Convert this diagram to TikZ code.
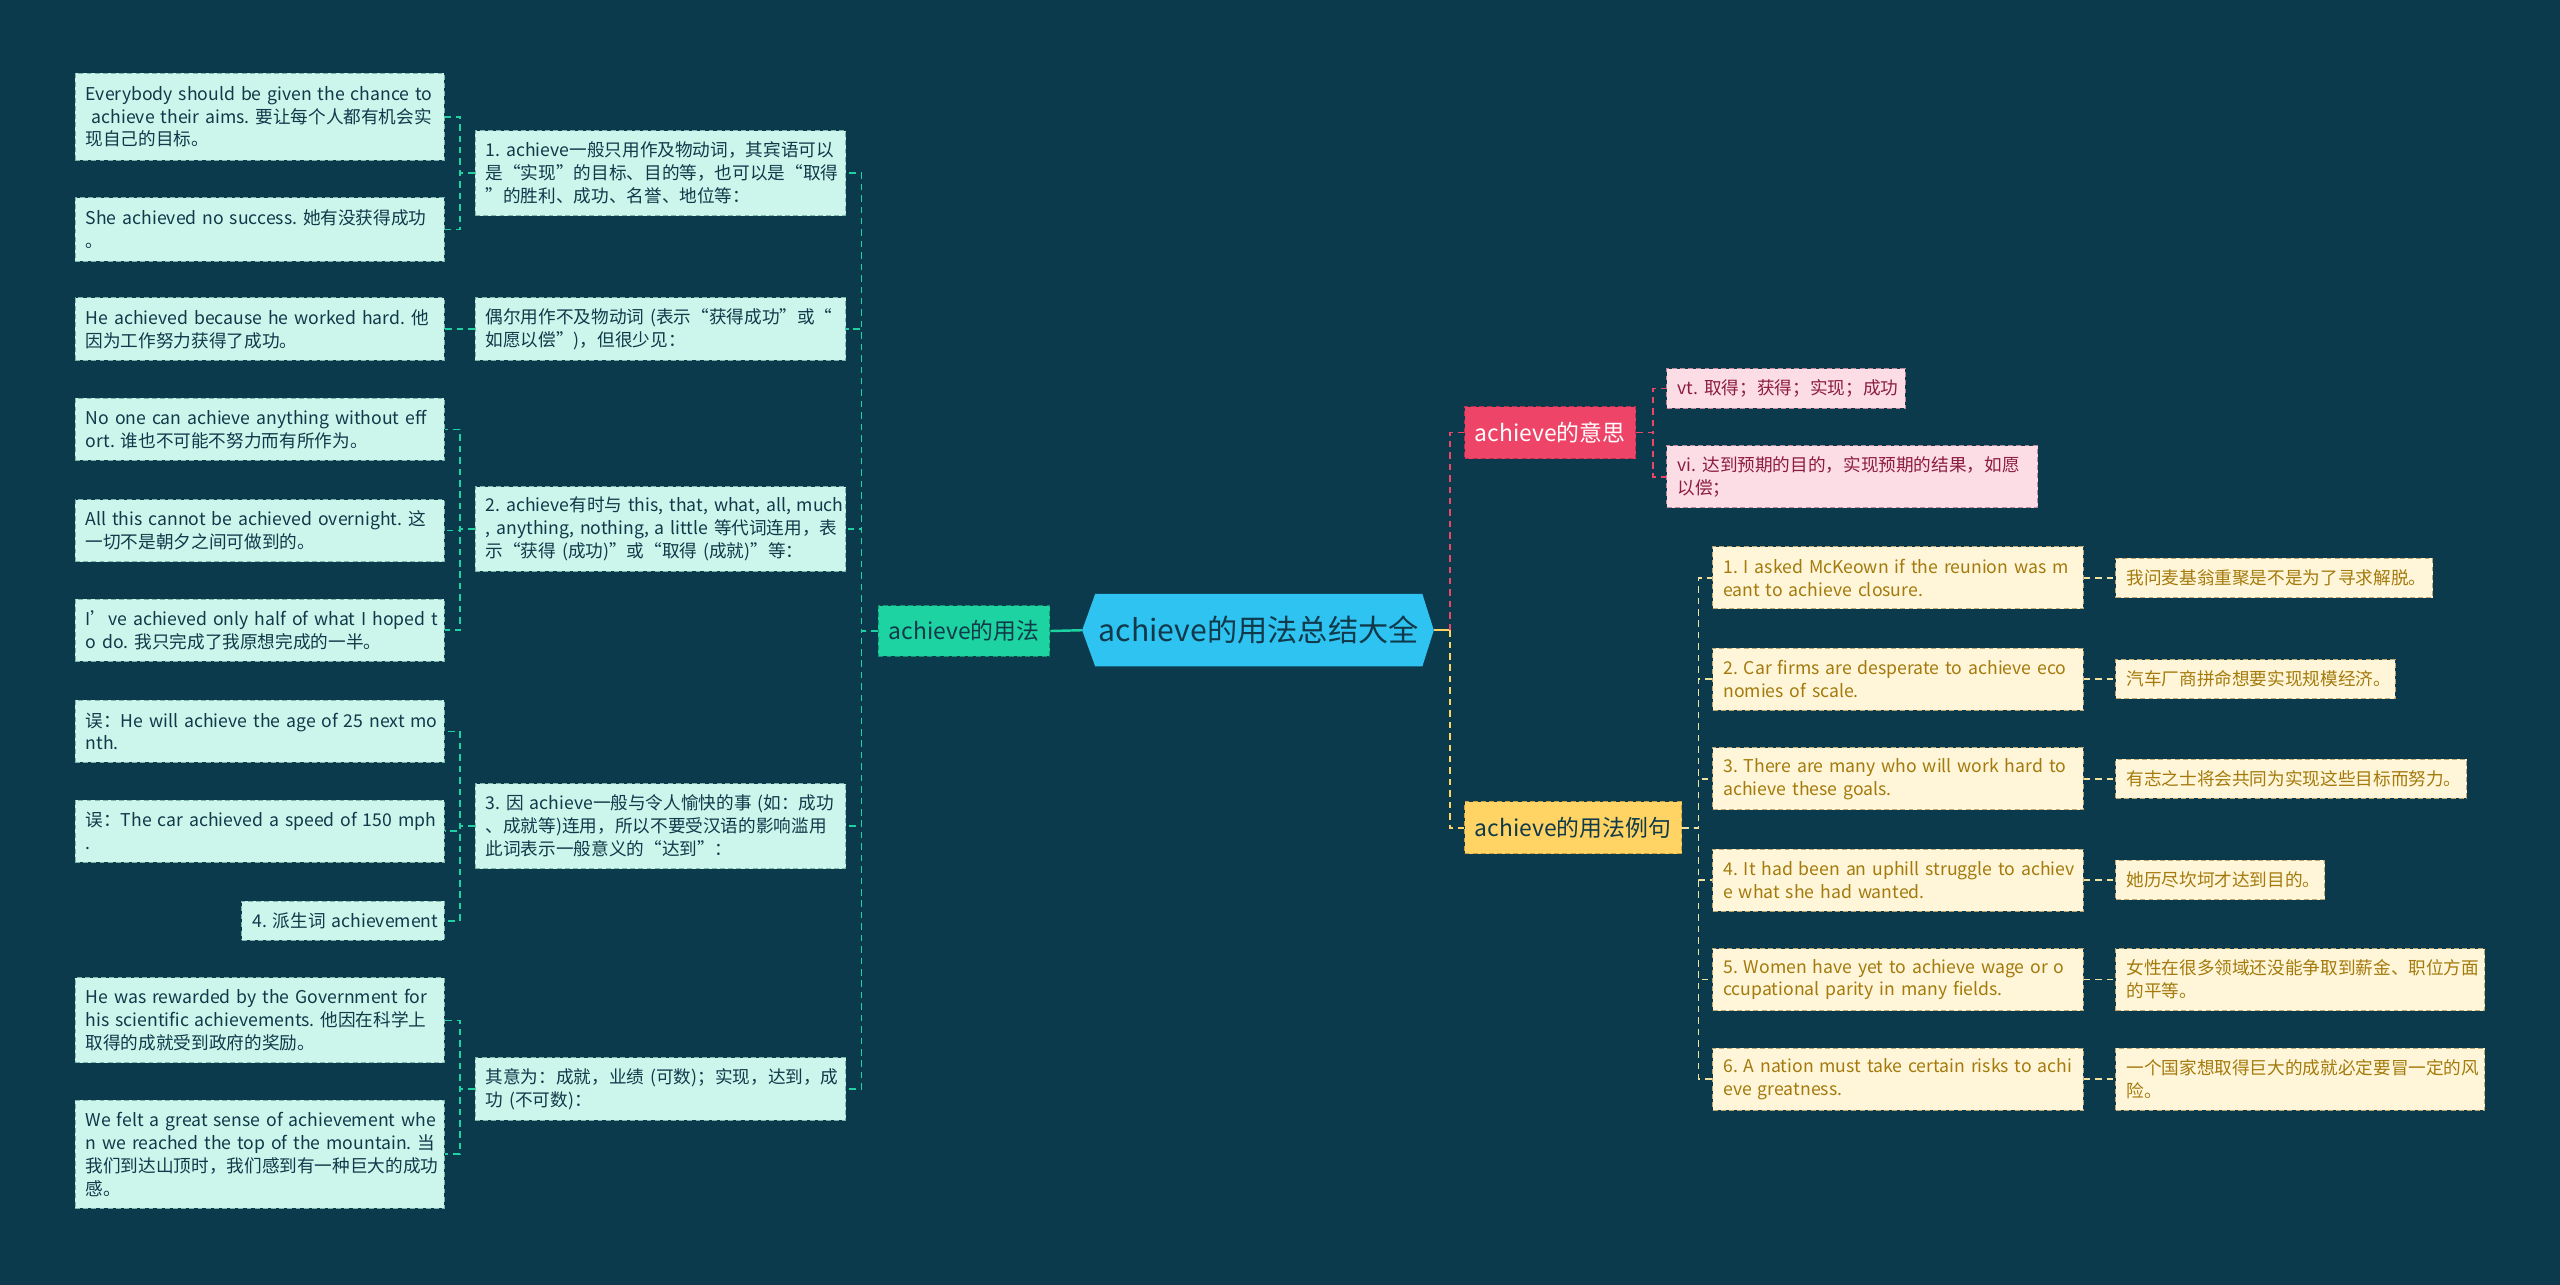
\documentclass[tikz,border=0pt]{standalone}
\usepackage{fontspec}
\setmainfont{Noto Sans CJK SC}
\usetikzlibrary{calc}
\frenchspacing
\definecolor{bgc}{HTML}{0A3A4C}
\definecolor{cyanc}{HTML}{2FC3F2}
\definecolor{greenc}{HTML}{1DD3A1}
\definecolor{mintc}{HTML}{CCF6EC}
\definecolor{mintb}{HTML}{7FB5AA}
\definecolor{darktxt}{HTML}{10394A}
\definecolor{pinkc}{HTML}{EE4468}
\definecolor{pinkb}{HTML}{B83050}
\definecolor{plight}{HTML}{FCDDE5}
\definecolor{plb}{HTML}{C08898}
\definecolor{ptext}{HTML}{8C1C40}
\definecolor{yelc}{HTML}{FFD464}
\definecolor{yelb}{HTML}{C9A040}
\definecolor{creamc}{HTML}{FFF5D9}
\definecolor{creamb}{HTML}{BFA870}
\definecolor{etext}{HTML}{A37A0B}
\definecolor{ysub}{HTML}{F2E2A0}
\pgfdeclarelayer{background}
\pgfsetlayers{background,main}
\newcommand\LL[1]{\mbox{#1}}
\begin{document}
\begin{tikzpicture}[x=1pt,y=-1pt,
  box/.style={rectangle, inner xsep=6.5pt, inner ysep=1pt, dash pattern=on 3pt off 2pt, line width=0.6pt, font=\fontsize{10.8}{14}\selectfont\frenchspacing},
  leaf/.style={box, fill=mintc, draw=mintb, text=darktxt, align=left, minimum width=226pt, text width=213pt},
  mid/.style={box, fill=mintc, draw=mintb, text=darktxt, align=left, minimum width=227pt, text width=214pt},
  pleaf/.style={box, fill=plight, draw=plb, text=ptext, align=left},
  eleaf/.style={box, fill=creamc, draw=creamb, text=etext, align=left},
  topic/.style={rectangle, inner sep=2pt, dash pattern=on 3pt off 2pt, line width=0.6pt, font=\fontsize{14}{16}\selectfont, minimum height=32pt},
  gdash/.style={draw=greenc, line width=1pt, dash pattern=on 4pt off 3pt},
  pdash/.style={draw=pinkc, line width=1pt, dash pattern=on 4pt off 3pt},
  ydash/.style={draw=yelc, line width=1pt, dash pattern=on 4pt off 3pt},
  ysdash/.style={draw=ysub, line width=1pt, dash pattern=on 4pt off 3pt},
]
\begin{pgfonlayer}{background}
\fill[bgc] (0,0) rectangle (1568,787);
\end{pgfonlayer}
\useasboundingbox (0,0) rectangle (1568,787);

% centre
\node[rectangle, inner sep=0pt, minimum width=200pt, minimum height=44pt, text=darktxt, font=\fontsize{18.5}{20}\selectfont] (c) at (771,386) {achieve的用法总结大全};
\coordinate (cw) at ([xshift=-8pt]c.west);
\coordinate (ce) at ([xshift=7pt]c.east);
\begin{pgfonlayer}{background}
\fill[cyanc] (c.north west) -- (c.north east) -- (ce) -- (c.south east) -- (c.south west) -- (cw) -- cycle;
\end{pgfonlayer}

% left topic
\node[topic, fill=greenc, draw=greenc!70!black, text=darktxt, minimum width=105pt, minimum height=31pt] (g) at (590.5,386.5) {achieve的用法};

% mids
\node[mid, minimum height=52pt] (m1) at (404.5,106) {\LL{1. achieve一般只用作及物动词，其宾语可以}\\\LL{是“实现”的目标、目的等，也可以是“取得}\\\LL{”的胜利、成功、名誉、地位等：}};
\node[mid, minimum height=38pt] (m2) at (404.5,201.5) {\LL{偶尔用作不及物动词 (表示“获得成功”或“}\\\LL{如愿以偿”)，但很少见：}};
\node[mid, minimum height=52pt] (m3) at (404.5,324) {\LL{2. achieve有时与 this, that, what, all, much}\\\LL{, anything, nothing, a little 等代词连用，表}\\\LL{示“获得 (成功)”或“取得 (成就)”等：}};
\node[mid, minimum height=52pt] (m4) at (404.5,506) {\LL{3. 因 achieve一般与令人愉快的事 (如：成功}\\\LL{、成就等)连用，所以不要受汉语的影响滥用}\\\LL{此词表示一般意义的“达到”：}};
\node[mid, minimum height=38pt] (m5) at (404.5,667) {\LL{其意为：成就，业绩 (可数)；实现，达到，成}\\\LL{功 (不可数)：}};

% leaves
\node[leaf, minimum height=53pt] (l1) at (159,71.5) {\LL{Everybody should be given the chance to}\\\LL{ achieve their aims. 要让每个人都有机会实}\\\LL{现自己的目标。}};
\node[leaf, minimum height=39pt] (l2) at (159,140.5) {\LL{She achieved no success. 她有没获得成功}\\\LL{。}};
\node[leaf, minimum height=38pt] (l3) at (159,201.5) {\LL{He achieved because he worked hard. 他}\\\LL{因为工作努力获得了成功。}};
\node[leaf, minimum height=38pt] (l4) at (159,263) {\LL{No one can achieve anything without eff}\\\LL{ort. 谁也不可能不努力而有所作为。}};
\node[leaf, minimum height=38pt] (l5) at (159,325) {\LL{All this cannot be achieved overnight. 这}\\\LL{一切不是朝夕之间可做到的。}};
\node[leaf, minimum height=38pt] (l6) at (159,386) {\LL{I’ve achieved only half of what I hoped t}\\\LL{o do. 我只完成了我原想完成的一半。}};
\node[leaf, minimum height=38pt] (l7) at (159,448) {\LL{误：He will achieve the age of 25 next mo}\\\LL{nth.}};
\node[leaf, minimum height=38pt] (l8) at (159,509) {\LL{误：The car achieved a speed of 150 mph}\\\LL{.}};
\node[leaf, align=right, minimum width=124pt, text width=111pt, minimum height=24pt] (l9) at (210,564) {\LL{4. 派生词 achievement}};
\node[leaf, minimum height=52pt] (l10) at (159,625) {\LL{He was rewarded by the Government for}\\\LL{his scientific achievements. 他因在科学上}\\\LL{取得的成就受到政府的奖励。}};
\node[leaf, minimum height=66pt] (l11) at (159,707) {\LL{We felt a great sense of achievement whe}\\\LL{n we reached the top of the mountain. 当}\\\LL{我们到达山顶时，我们感到有一种巨大的成功}\\\LL{感。}};

% right topics
\node[topic, fill=pinkc, draw=pinkb, text=white, minimum width=105pt] (p) at (949.5,265) {achieve的意思};
\node[topic, fill=yelc, draw=yelb, text=darktxt, minimum width=133pt] (y) at (963.5,507) {achieve的用法例句};

\node[pleaf, minimum width=146pt, text width=133pt, minimum height=24pt] (p1) at (1094,238) {\LL{vt. 取得；获得；实现；成功}};
\node[pleaf, minimum width=227pt, text width=214pt, minimum height=38pt] (p2) at (1134.5,292) {\LL{vi. 达到预期的目的，实现预期的结果，如愿}\\\LL{以偿；}};

\tikzset{ebox/.style={eleaf, minimum width=227pt, text width=214pt, minimum height=38pt}}
\node[ebox] (e1) at (1162.5,354) {\LL{1. I asked McKeown if the reunion was m}\\\LL{eant to achieve closure.}};
\node[ebox] (e2) at (1162.5,416) {\LL{2. Car firms are desperate to achieve eco}\\\LL{nomies of scale.}};
\node[ebox] (e3) at (1162.5,477) {\LL{3. There are many who will work hard to}\\\LL{achieve these goals.}};
\node[ebox] (e4) at (1162.5,539) {\LL{4. It had been an uphill struggle to achiev}\\\LL{e what she had wanted.}};
\node[ebox] (e5) at (1162.5,600) {\LL{5. Women have yet to achieve wage or o}\\\LL{ccupational parity in many fields.}};
\node[ebox] (e6) at (1162.5,661) {\LL{6. A nation must take certain risks to achi}\\\LL{eve greatness.}};

\node[eleaf, minimum width=194pt, text width=181pt, minimum height=24pt] (t1) at (1393,354) {\LL{我问麦基翁重聚是不是为了寻求解脱。}};
\node[eleaf, minimum width=171pt, text width=158pt, minimum height=24pt] (t2) at (1381.5,416) {\LL{汽车厂商拼命想要实现规模经济。}};
\node[eleaf, minimum width=215pt, text width=202pt, minimum height=24pt] (t3) at (1403.5,477) {\LL{有志之士将会共同为实现这些目标而努力。}};
\node[eleaf, minimum width=128pt, text width=115pt, minimum height=24pt] (t4) at (1360,539) {\LL{她历尽坎坷才达到目的。}};
\node[eleaf, minimum width=226pt, text width=213pt, minimum height=38pt] (t5) at (1409,600) {\LL{女性在很多领域还没能争取到薪金、职位方面}\\\LL{的平等。}};
\node[eleaf, minimum width=226pt, text width=213pt, minimum height=38pt] (t6) at (1409,661) {\LL{一个国家想取得巨大的成就必定要冒一定的风}\\\LL{险。}};

% connectors left
\draw[greenc, line width=1.5pt] (g.east) -- (cw);
\foreach \m in {m1,m2,m3,m4,m5}
  \draw[gdash] (g.west) -- ([xshift=-10pt]g.west) |- (\m.east);
\foreach \m/\l in {m1/l1,m1/l2,m2/l3,m3/l4,m3/l5,m3/l6,m4/l7,m4/l8,m4/l9,m5/l10,m5/l11}
  \draw[gdash] (\m.west) -- ([xshift=-9pt]\m.west) |- (\l.east);

% connectors right
\draw[yelc, line width=1.5pt] (ce) -- ([xshift=10pt]ce);
\draw[pdash] ([xshift=10pt]ce) |- (p.west);
\draw[ydash] ([xshift=10pt]ce) |- (y.west);
\foreach \q in {p1,p2}
  \draw[pdash] (p.east) -- ([xshift=10pt]p.east) |- (\q.west);
\foreach \q in {e1,e2,e3,e4,e5,e6}
  \draw[ysdash] (y.east) -- ([xshift=10pt]y.east) |- (\q.west);
\foreach \a/\b in {e1/t1,e2/t2,e3/t3,e4/t4,e5/t5,e6/t6}
  \draw[ysdash] (\a.east) -- (\b.west);
\end{tikzpicture}
\end{document}
